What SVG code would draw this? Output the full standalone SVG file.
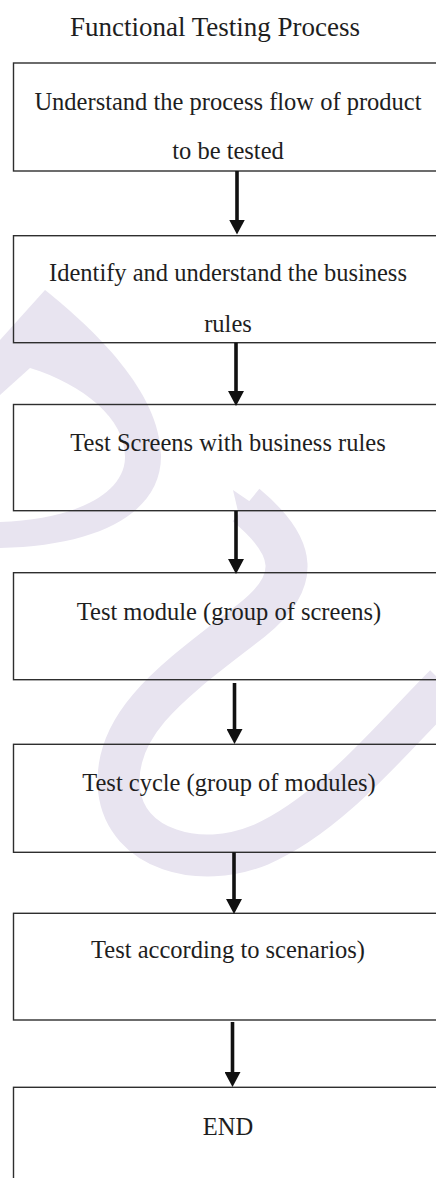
<svg xmlns="http://www.w3.org/2000/svg" width="436" height="1178" viewBox="0 0 436 1178">
<style>
.bx{fill:none;stroke:#2e2e2e;stroke-width:1.4}
.t{font-family:"Liberation Serif","Times New Roman",serif;font-size:24.5px;fill:#1e1e1e;text-anchor:middle}
.ttl{font-family:"Liberation Serif","Times New Roman",serif;font-size:27px;fill:#1e1e1e;text-anchor:middle}
.ar{stroke:#111;stroke-width:3.6;fill:none;marker-end:url(#ah)}
.wm{fill:#e8e4f0}
.wms{fill:none;stroke:#e8e4f0;stroke-width:42}
</style>
<defs>
<marker id="ah" markerUnits="userSpaceOnUse" markerWidth="16" markerHeight="16" viewBox="0 0 16 16" refX="5" refY="8" orient="auto">
<path d="M0,0 L15,8 L0,16 z" fill="#111"/>
</marker>
</defs>
<rect width="436" height="1178" fill="#fff"/>
<g id="watermark">
<path class="wm" d="M45,290 C95,330 160,392 161,455 C162,512 100,546 0,548 L0,522 C70,520 124,496 125,458 C126,420 85,385 30,368 L0,395 L0,340 Z"/>
<path class="wms" d="M246,505 C298,548 300,582 252,620 C182,675 112,720 119,790 C126,850 200,870 260,845 C330,815 390,740 445,685"/>
<path class="wm" d="M233,490 L262,510 L240,520 Z"/>
</g>
<text class="ttl" x="215" y="36">Functional Testing Process</text>
<g id="n1"><rect class="bx" x="13.5" y="63" width="440" height="108"/><text class="t" x="228" y="110">Understand the process flow of product</text><text class="t" x="228" y="159">to be tested</text></g>
<g id="n2"><rect class="bx" x="13.5" y="235.7" width="440" height="107"/><text class="t" x="228" y="280.7">Identify and understand the business</text><text class="t" x="228" y="331.7">rules</text></g>
<g id="n3"><rect class="bx" x="13.5" y="404.5" width="440" height="106.2"/><text class="t" x="228" y="450.7">Test Screens with business rules</text></g>
<g id="n4"><rect class="bx" x="13.5" y="572.7" width="440" height="107"/><text class="t" x="229" y="620">Test module (group of screens)</text></g>
<g id="n5"><rect class="bx" x="13.5" y="744.3" width="440" height="108"/><text class="t" x="229" y="790.7">Test cycle (group of modules)</text></g>
<g id="n6"><rect class="bx" x="13.5" y="913.3" width="440" height="106.7"/><text class="t" x="228" y="958">Test according to scenarios)</text></g>
<g id="n7"><rect class="bx" x="13.5" y="1087.3" width="440" height="120"/><text class="t" x="228" y="1135">END</text></g>
<g id="connectors">
<line class="ar" x1="237" y1="171" x2="237" y2="224.5"/>
<line class="ar" x1="236" y1="342.7" x2="236" y2="396"/>
<line class="ar" x1="236" y1="511" x2="236" y2="564"/>
<line class="ar" x1="234.5" y1="683" x2="234.5" y2="734"/>
<line class="ar" x1="234" y1="852.3" x2="234" y2="904"/>
<line class="ar" x1="232.5" y1="1022" x2="232.5" y2="1077"/>
</g>
</svg>
